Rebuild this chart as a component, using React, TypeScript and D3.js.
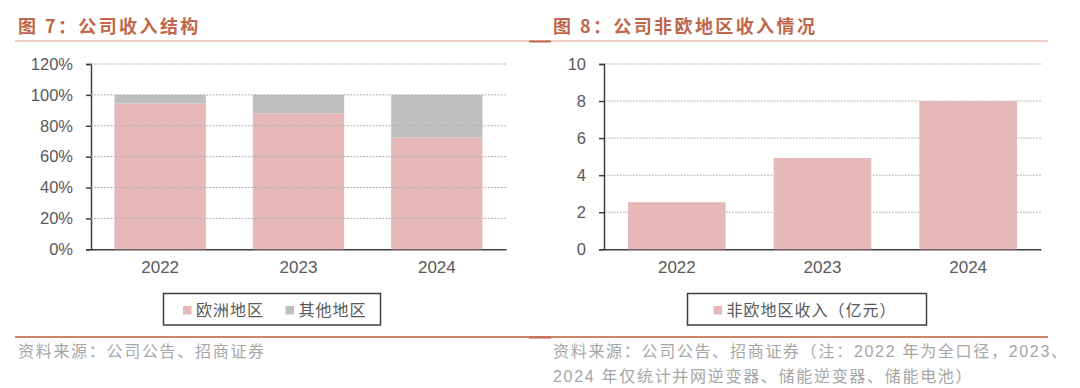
import React, { useEffect, useRef } from "react";
import * as d3 from "d3";

const years = ["2022", "2023", "2024"];
const europeShare = [0.945, 0.88, 0.723];
const otherShare = [0.055, 0.12, 0.277];
const shareTicks = [0, 0.2, 0.4, 0.6, 0.8, 1.0, 1.2];
const nonEuropeRevenue = [2.54, 4.93, 8.0];
const revenueTicks = [0, 2, 4, 6, 8, 10];

const PINK = "#e6b8b7";
const GRAY = "#bfbfbf";
const TITLE = "#c0674b";
const TEXT = "#595959";
const NOTE = "#a6a6a6";
const LATIN = "'Liberation Sans', Arial, 'Noto Sans CJK SC', sans-serif";
const CJK = "'Noto Sans CJK SC', 'Liberation Sans', sans-serif";

const drawAxes = (g, x, y, ticks, fmt, x0, x1) => {
  // grid lines (not at 0)
  g.append("g")
    .selectAll("line")
    .data(ticks.filter((t) => t !== 0))
    .join("line")
    .attr("x1", x0)
    .attr("x2", x1)
    .attr("y1", (d) => y(d))
    .attr("y2", (d) => y(d))
    .attr("stroke", "#b3b3b3")
    .attr("stroke-width", 1)
    .attr("stroke-dasharray", "2,1.2");

  const ya = g
    .append("g")
    .attr("transform", `translate(${x0},0)`)
    .call(d3.axisLeft(y).tickValues(ticks).tickFormat(fmt).tickSize(5).tickPadding(13));
  ya.select(".domain").attr("stroke", "#404040").attr("stroke-width", 1.5);
  ya.selectAll(".tick line").attr("stroke", "#404040").attr("stroke-width", 1.5);
  ya.selectAll("text")
    .attr("fill", TEXT)
    .style("font-family", LATIN)
    .style("font-size", "16.5px");

  const xa = g
    .append("g")
    .attr("transform", `translate(0,${y(0)})`)
    .call(d3.axisBottom(x).tickSize(0).tickPadding(12));
  xa.select(".domain").attr("stroke", "#404040").attr("stroke-width", 1.5);
  xa.selectAll("text")
    .attr("fill", TEXT)
    .attr("dy", "0.71em")
    .style("font-family", LATIN)
    .style("font-size", "17px");
};

const drawCharts = (svgEl) => {
  const svg = d3.select(svgEl);
  svg.selectAll("*").remove();

  // header / footer rules
  [41, 337].forEach((yy, i) => {
    svg
      .append("line")
      .attr("x1", 15)
      .attr("x2", 1048)
      .attr("y1", yy)
      .attr("y2", yy)
      .attr("stroke", i === 0 ? "#dba48f" : "#cd8468")
      .attr("stroke-width", i === 0 ? 1.2 : 1.8);
    svg
      .append("line")
      .attr("x1", 529)
      .attr("x2", 551)
      .attr("y1", yy + 0.5)
      .attr("y2", yy + 0.5)
      .attr("stroke", "#c0674b")
      .attr("stroke-width", 2);
  });

  // titles
  [
    { x: 18, t: "图 7：公司收入结构" },
    { x: 553, t: "图 8：公司非欧地区收入情况" },
  ].forEach((d) => {
    svg
      .append("text")
      .attr("x", d.x)
      .attr("y", 33)
      .attr("fill", TITLE)
      .style("font-family", CJK)
      .style("font-size", "18px")
      .style("font-weight", "bold")
      .style("letter-spacing", "2.4px")
      .text(d.t);
  });

  // ---- left chart: revenue structure ----
  const gl = svg.append("g");
  const xl = d3.scaleBand().domain(years).range([91, 506]).paddingInner(0.34).paddingOuter(0.17);
  const yl = d3.scaleLinear().domain([0, 1.2]).range([249.3, 64]);
  drawAxes(gl, xl, yl, shareTicks, d3.format(".0%"), 91, 506);

  const bars = gl.append("g");
  bars
    .selectAll("rect.eu")
    .data(years)
    .join("rect")
    .attr("class", "eu")
    .attr("x", (d) => xl(d))
    .attr("width", xl.bandwidth())
    .attr("y", (d, i) => yl(europeShare[i]))
    .attr("height", (d, i) => yl(0) - yl(europeShare[i]))
    .attr("fill", PINK);
  bars
    .selectAll("rect.ot")
    .data(years)
    .join("rect")
    .attr("class", "ot")
    .attr("x", (d) => xl(d))
    .attr("width", xl.bandwidth())
    .attr("y", (d, i) => yl(europeShare[i] + otherShare[i]))
    .attr("height", (d, i) => yl(europeShare[i]) - yl(europeShare[i] + otherShare[i]))
    .attr("fill", GRAY);
  gl.select("g").raise();
  gl.selectAll(".domain").raise();

  // ---- right chart: non-Europe revenue ----
  const gr = svg.append("g");
  const xr = d3.scaleBand().domain(years).range([604, 1041]).paddingInner(0.33).paddingOuter(0.165);
  const yr = d3.scaleLinear().domain([0, 10]).range([249.3, 64]);
  drawAxes(gr, xr, yr, revenueTicks, d3.format("d"), 604, 1041);
  gr.append("g")
    .selectAll("rect")
    .data(years)
    .join("rect")
    .attr("x", (d) => xr(d))
    .attr("width", xr.bandwidth())
    .attr("y", (d, i) => yr(nonEuropeRevenue[i]))
    .attr("height", (d, i) => yr(0) - yr(nonEuropeRevenue[i]))
    .attr("fill", PINK);

  // keep axis lines above bars
  svg.selectAll(".domain").raise();

  // ---- legends ----
  const legend = (x, w, items) => {
    const lg = svg.append("g");
    lg.append("rect")
      .attr("x", x)
      .attr("y", 293.5)
      .attr("width", w)
      .attr("height", 31.5)
      .attr("fill", "none")
      .attr("stroke", "#404040")
      .attr("stroke-width", 1.5);
    items.forEach((it) => {
      lg.append("rect")
        .attr("x", it.x)
        .attr("y", 306)
        .attr("width", 8.5)
        .attr("height", 8.5)
        .attr("fill", it.c);
      lg.append("text")
        .attr("x", it.x + 13)
        .attr("y", 316)
        .attr("fill", TEXT)
        .style("font-family", CJK)
        .style("font-size", "16px")
        .style("letter-spacing", "1px")
        .text(it.t);
    });
  };
  legend(163.5, 217, [
    { x: 183, c: PINK, t: "欧洲地区" },
    { x: 285.5, c: GRAY, t: "其他地区" },
  ]);
  legend(687.5, 239, [{ x: 713.5, c: PINK, t: "非欧地区收入（亿元）" }]);

  // ---- source notes ----
  const notes = [
    { x: 18, y: 357, t: "资料来源：公司公告、招商证券" },
    { x: 553, y: 357, t: "资料来源：公司公告、招商证券（注：2022 年为全口径，2023、" },
    { x: 553, y: 382, t: "2024 年仅统计并网逆变器、储能逆变器、储能电池）" },
  ];
  svg
    .append("g")
    .selectAll("text")
    .data(notes)
    .join("text")
    .attr("x", (d) => d.x)
    .attr("y", (d) => d.y)
    .attr("fill", NOTE)
    .style("font-family", LATIN)
    .style("font-size", "16px")
    .style("letter-spacing", "1.7px")
    .text((d) => d.t);
};

export default function App() {
  const ref = useRef(null);
  useEffect(() => {
    drawCharts(ref.current);
  }, []);
  return (
    <svg
      ref={ref}
      width={1080}
      height={388}
      style={{ position: "absolute", left: 0, top: 0, background: "#fff" }}
    />
  );
}
